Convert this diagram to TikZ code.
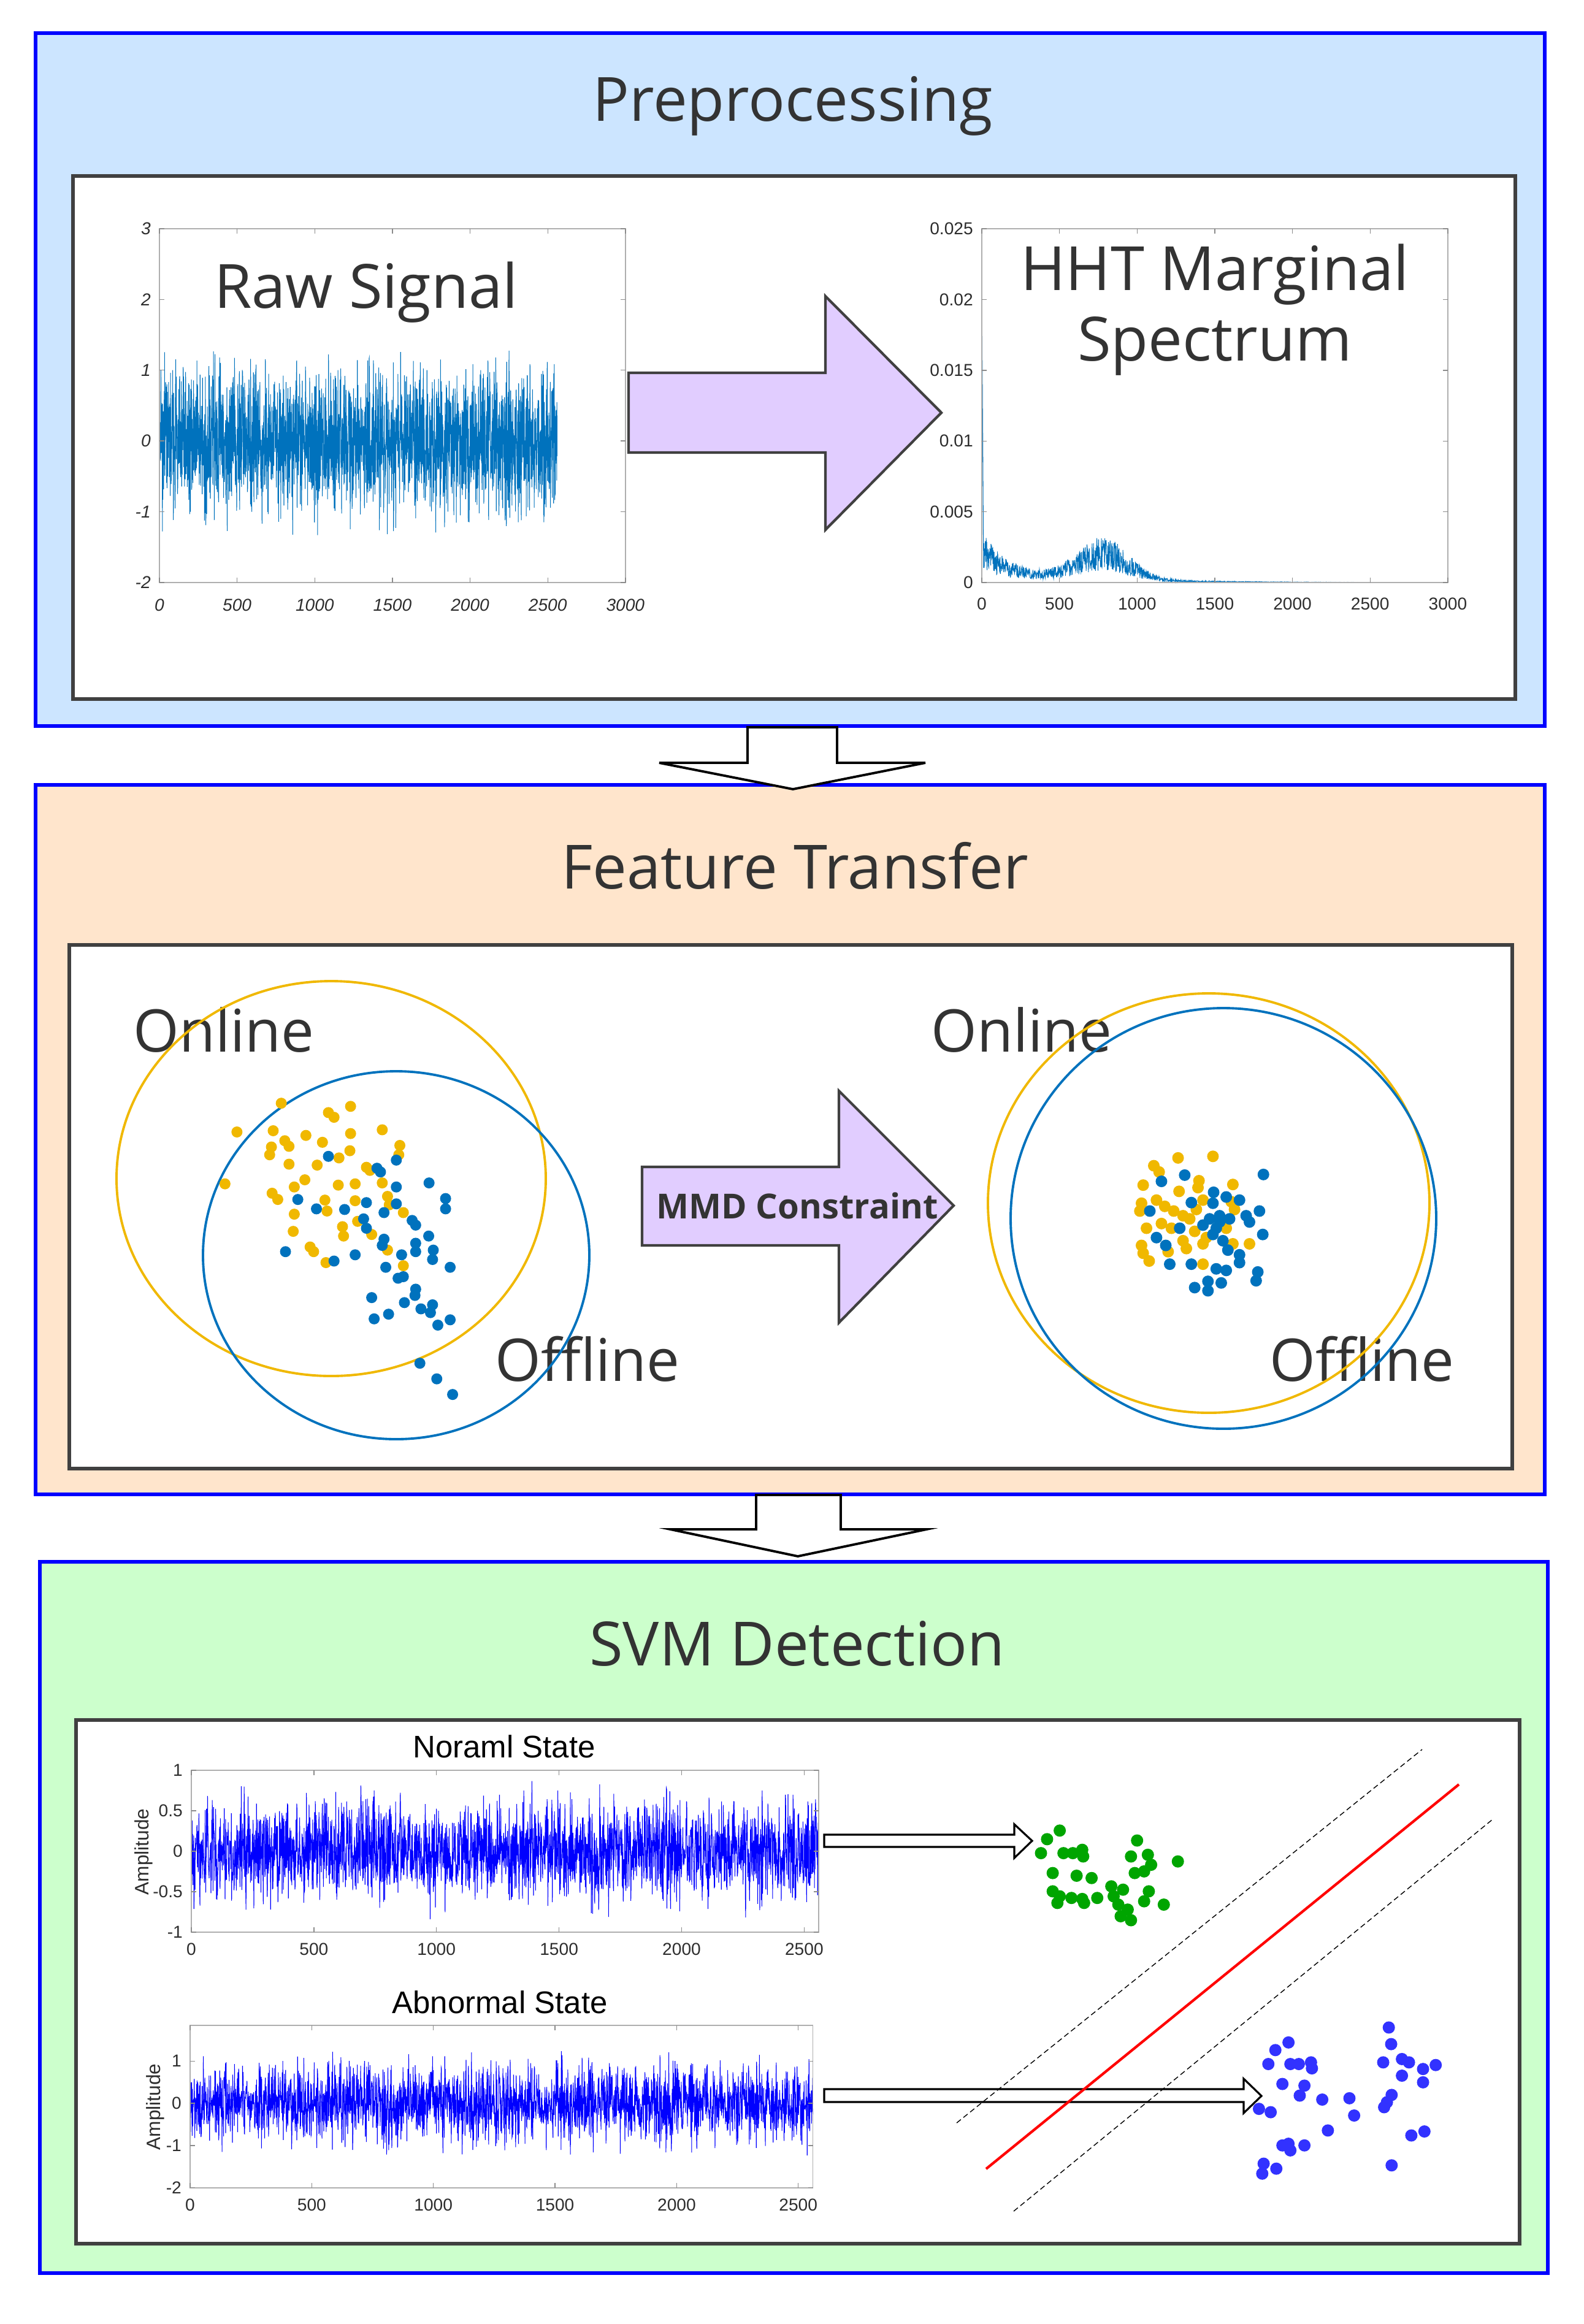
\documentclass[tikz,border=0pt]{standalone}
\usepackage{fontspec}
\setmainfont{Open Sans}
\newfontfamily\plotfont{Liberation Sans}

\definecolor{prebg}{RGB}{204,229,255}
\definecolor{featbg}{RGB}{255,229,204}
\definecolor{svmbg}{RGB}{204,255,204}
\definecolor{framegray}{RGB}{64,64,64}
\definecolor{textgray}{RGB}{51,51,51}
\definecolor{lavender}{RGB}{225,205,255}
\definecolor{mblue}{RGB}{0,114,189}
\definecolor{myellow}{RGB}{240,184,0}
\definecolor{axgray}{RGB}{175,175,175}
\definecolor{labgray}{RGB}{45,45,45}
\definecolor{dotgreen}{RGB}{0,165,0}
\definecolor{dotblue}{RGB}{50,50,255}

\tikzset{
	panel/.style={draw=blue, line width=1.5pt},
	innerbox/.style={draw=framegray, fill=white, line width=1.7pt},
	title/.style={font=\fontsize{28.3}{34}\selectfont, text=textgray, anchor=base},
	bigtext/.style={font=\fontsize{27.3}{33}\selectfont, text=textgray, anchor=base west},
	downarrow/.style={draw=black, fill=white, line width=1.1pt, line join=miter},
	bigarrow/.style={draw=framegray, fill=lavender, line width=1.2pt, line join=miter},
	hollowarrow/.style={draw=black, fill=white, line width=0.9pt, line join=miter},
	axisbox/.style={draw=axgray, line width=0.5pt},
	tickmark/.style={draw=axgray!80!black, line width=0.4pt},
	ticklab/.style={font=\plotfont\fontsize{8}{9}\selectfont, text=labgray, inner sep=1pt},
	plottitle/.style={font=\plotfont\fontsize{14.5}{17}\selectfont, text=black, anchor=base},
	axlab/.style={font=\plotfont\fontsize{9}{11}\selectfont, text=labgray, rotate=90},
	ring/.style={line width=1.1pt}
}

\begin{document}
\begin{tikzpicture}
\useasboundingbox (0,0) rectangle (25.82,-37.90);

% PANELS
	\draw [panel, fill=prebg] (0.58,-0.54) rectangle (25.19,-11.84);
	\draw [panel, fill=featbg] (0.58,-12.80) rectangle (25.19,-24.37);
	\draw [panel, fill=svmbg] (0.65,-25.47) rectangle (25.24,-37.07);
	\draw [innerbox] (1.19,-2.87) rectangle (24.71,-11.40);
	\draw [innerbox] (1.13,-15.41) rectangle (24.66,-23.95);
	\draw [innerbox] (1.24,-28.05) rectangle (24.78,-36.59);

	\node [title] (pre) at (12.93,-1.97) {Preprocessing};
	\node [title] (feat) at (12.96,-14.49) {Feature Transfer};
	\node [title] (svm) at (13.00,-27.16) {SVM Detection};

% DOWN ARROWS
	\draw [downarrow] (12.19,-11.86) -- (13.65,-11.86) -- (13.65,-12.44)
	-- (15.09,-12.44) -- (12.93,-12.87) -- (10.75,-12.44) -- (12.19,-12.44) -- cycle;
	\draw [downarrow] (12.33,-24.38) -- (13.71,-24.38) -- (13.71,-24.94)
	-- (15.11,-24.94) -- (13.01,-25.38) -- (10.93,-24.94) -- (12.33,-24.94) -- cycle;

% RAW SIGNAL
	\begin{scope}[shift={(2.60,-7.19)}, x=0.00253cm, y=1.154cm]
	\pgfmathsetseed{17}
	\draw [mblue, line width=0.3pt] plot [domain=0:2560, samples=2400] (\x,{0.5*(rand+rand+rand)});
	\draw [axisbox] (0,-2) rectangle (3000,3);
	\foreach \t in {0,500,...,3000} {
		\draw [tickmark] (\t,-2) -- ++(0,0.08cm) (\t,3) -- ++(0,-0.08cm);
		\node [ticklab, font=\plotfont\itshape\fontsize{8}{9}\selectfont, anchor=north] (rx\t) at (\t,-2.2) {\t};
	}
	\foreach \t [count=\i] in {-2,-1,0,1,2,3} {
		\draw [tickmark] (0,\t) -- ++(0.08cm,0) (3000,\t) -- ++(-0.08cm,0);
		\node [ticklab, font=\plotfont\itshape\fontsize{8}{9}\selectfont, anchor=east] (ry\i) at (-40,\t) {\t};
	}
	\end{scope}
	\node [title] (raw) at (5.97,-5.02) {Raw Signal};

% SPECTRUM
	\begin{scope}[shift={(16.01,-9.50)}, x=0.00253cm, y=0.2308cm]
	\pgfmathsetseed{5}
	\draw [mblue, line width=0.3pt] (0,0) -- (0,20.5) -- (10,3.2)
	-- plot [domain=10:2560, samples=1400]
	(\x,{(1.6*exp(-\x/120)+0.8*exp(-\x/600)+1.8*exp(-min(((\x-780)/230)^2,15)))*(0.4+1.2*rnd)});
	\draw [axisbox] (0,0) rectangle (3000,25);
	\foreach \t in {0,500,...,3000} {
		\draw [tickmark] (\t,0) -- ++(0,0.08cm) (\t,25) -- ++(0,-0.08cm);
		\node [ticklab, anchor=north] (hx\t) at (\t,-0.9) {\t};
	}
	\foreach \t/\l [count=\i] in {0/0,5/0.005,10/0.01,15/0.015,20/0.02,25/0.025} {
		\draw [tickmark] (0,\t) -- ++(0.08cm,0) (3000,\t) -- ++(-0.08cm,0);
		\node [ticklab, anchor=east] (hy\i) at (-40,\t) {\l};
	}
	\end{scope}
	\node [title] (hht) at (19.81,-4.73) {HHT Marginal};
	\node [title] (spec) at (19.81,-5.88) {Spectrum};

	\draw [bigarrow] (10.25,-6.08) -- (13.46,-6.08) -- (13.46,-4.83) -- (15.35,-6.73)
	-- (13.46,-8.64) -- (13.46,-7.38) -- (10.25,-7.38) -- cycle;

% FEATURE TRANSFER
	\node [bigtext] (onl) at (2.05,-17.15) {Online};
	\node [bigtext] (offl) at (7.95,-22.52) {Offline};
	\node [bigtext] (onr) at (15.06,-17.15) {Online};
	\node [bigtext] (offr) at (20.58,-22.52) {Offline};

	\draw [ring, myellow] (5.40,-19.22) ellipse (3.50 and 3.22);
	\draw [ring, mblue] (6.46,-20.47) ellipse (3.15 and 3.00);
	\draw [ring, myellow] (19.71,-19.62) ellipse (3.60 and 3.42);
	\draw [ring, mblue] (19.95,-19.87) ellipse (3.47 and 3.43);

	\begin{scope}[shift={(1.5,-15.8)}, x=0.005741cm, y=-0.005102cm]
	\foreach \x/\y in {538/430, 412/522, 515/518, 548/550, 560/568, 510/570, 505/595, 608/533,
		655/555, 672/460, 688/475, 735/440, 735/527, 733/582, 702/605, 560/625, 640/628, 605/675,
		575/698, 512/718, 528/738, 378/688, 700/692, 748/688, 780/635, 790/645, 825/515, 875/565,
		872/595, 825/685, 840/728, 845/755, 662/740, 668/775, 748/742, 575/785, 572/840, 712/825,
		715/855, 755/808, 795/850, 620/890, 630/905, 665/940, 885/780, 840/900, 885/950}
		\fill [myellow] (\x,\y) circle (0.09cm);
	\foreach \x/\y in {672/600, 865/612, 810/638, 820/650, 865/698, 958/685, 1005/735, 1005/768,
		585/738, 638/768, 718/770, 780/748, 772/800, 780/830, 830/780, 865/752, 910/805, 920/820,
		957/855, 830/865, 825/885, 920/878, 920/905, 970/900, 968/930, 880/915, 835/955, 1018/955,
		870/990, 885/985, 920/1025, 918/1045, 550/905, 748/915, 688/935, 795/1052, 888/1068,
		935/1088, 968/1075, 962/1100, 802/1120, 843/1105, 983/1140, 1018/1123, 932/1262,
		980/1312, 1025/1362}
		\fill [mblue] (\x,\y) circle (0.09cm);
	\end{scope}

	\begin{scope}[shift={(15.5,-15.8)}, x=0.00542cm, y=-0.005102cm]
	\foreach \x/\y in {685/605, 790/600, 612/630, 628/650, 580/692, 688/712, 748/678, 745/700,
		850/690, 575/750, 570/775, 620/740, 645/760, 672/775, 700/790, 740/770, 760/740, 590/830,
		635/815, 665/830, 720/800, 735/840, 700/870, 710/895, 760/880, 770/860, 830/830, 850/880,
		900/880, 845/745, 855/770, 575/885, 580/910, 598/935, 655/905, 760/945}
		\fill [myellow] (\x,\y) circle (0.095cm);
	\foreach \x/\y in {635/680, 705/660, 942/658, 792/715, 725/748, 830/730, 870/740, 790/750,
		810/790, 780/800, 800/830, 840/800, 820/870, 930/775, 890/790, 900/810, 940/850, 600/775,
		690/830, 620/860, 648/885, 660/945, 725/945, 800/960, 830/965, 870/915, 870/940, 925/970,
		920/998, 735/1020, 775/1000, 775/1030, 815/1005, 835/900, 760/820, 790/850, 810/810}
		\fill [mblue] (\x,\y) circle (0.095cm);
	\end{scope}

	\draw [bigarrow] (10.47,-19.03) -- (13.68,-19.03) -- (13.68,-17.79) -- (15.55,-19.66)
	-- (13.68,-21.57) -- (13.68,-20.31) -- (10.47,-20.31) -- cycle;
	\node [font=\bfseries\fontsize{16}{19}\selectfont, text=textgray, anchor=base] (mmd)
	at (13.00,-19.87) {MMD Constraint};

% SVM DETECTION
	\node [plottitle] (nor) at (8.22,-28.66) {Noraml State};
	\node [plottitle] (abn) at (8.15,-32.83) {Abnormal State};
	\node [axlab] (amp1) at (2.34,-30.20) {Amplitude};
	\node [axlab] (amp2) at (2.53,-34.36) {Amplitude};

	\begin{scope}[shift={(3.12,-30.19)}, x=0.003996cm, y=1.32cm]
	\pgfmathsetseed{29}
	\draw [blue, line width=0.3pt] plot [domain=0:2560, samples=2400] (\x,{0.3*(rand+rand+rand)});
	\draw [axisbox] (0,-1) rectangle (2560,1);
	\foreach \t in {0,500,...,2500} {
		\draw [tickmark] (\t,-1) -- ++(0,0.08cm) (\t,1) -- ++(0,-0.08cm);
		\node [ticklab, anchor=north] (nx\t) at (\t,-1.1) {\t};
	}
	\foreach \t [count=\i] in {-1,-0.5,0,0.5,1} {
		\draw [tickmark] (0,\t) -- ++(0.08cm,0) (2560,\t) -- ++(-0.08cm,0);
		\node [ticklab, anchor=east] (ny\i) at (-25,\t) {\t};
	}
	\end{scope}

	\begin{scope}[shift={(3.10,-34.30)}, x=0.003961cm, y=0.688cm]
	\pgfmathsetseed{41}
	\draw [blue, line width=0.3pt] plot [domain=0:2560, samples=2400] (\x,{0.45*(rand+rand+rand)});
	\draw [axisbox] (0,-2) rectangle (2560,1.85);
	\foreach \t in {0,500,...,2500} {
		\draw [tickmark] (\t,-2) -- ++(0,0.08cm) (\t,1.85) -- ++(0,-0.08cm);
		\node [ticklab, anchor=north] (ax\t) at (\t,-2.2) {\t};
	}
	\foreach \t [count=\i] in {-2,-1,0,1} {
		\draw [tickmark] (0,\t) -- ++(0.08cm,0) (2560,\t) -- ++(-0.08cm,0);
		\node [ticklab, anchor=east] (ay\i) at (-25,\t) {\t};
	}
	\end{scope}

	\draw [hollowarrow] (13.44,-29.92) -- (16.54,-29.92) -- (16.54,-29.75) -- (16.83,-30.02)
	-- (16.54,-30.30) -- (16.54,-30.12) -- (13.44,-30.12) -- cycle;
	\draw [hollowarrow] (13.44,-34.07) -- (20.28,-34.07) -- (20.28,-33.90) -- (20.57,-34.18)
	-- (20.28,-34.46) -- (20.28,-34.28) -- (13.44,-34.28) -- cycle;

	\draw [red, line width=1.2pt] (16.08,-35.37) -- (23.79,-29.10);
	\draw [black, line width=0.4pt, dash pattern=on 2.5pt off 1.5pt] (15.60,-34.62) -- (23.19,-28.53);
	\draw [black, line width=0.4pt, dash pattern=on 2.5pt off 1.5pt] (16.53,-36.06) -- (24.34,-29.67);

	\begin{scope}[shift={(13.0,-28.0)}, x=0.007651cm, y=-0.00542cm]
	\foreach \x/\y in {560/342, 533/368, 520/410, 568/410, 588/410, 608/400, 610/420, 545/470,
		596/478, 628/485, 545/525, 560/540, 555/560, 585/545, 608/548, 612/560, 640/545, 670/510,
		675/540, 695/520, 685/565, 690/600, 712/612, 705/580, 725/372, 712/420, 748/415, 755/445,
		720/470, 740/465, 750/525, 740/555, 782/565, 812/435}
		\fill [dotgreen] (\x,\y) circle (0.1cm);
	\foreach \x/\y in {1262/935, 1267/985, 1048/980, 1020/1003, 1005/1045, 1052/1045, 1070/1045,
		1096/1040, 1098/1058, 1035/1105, 1082/1110, 1072/1140, 1120/1152, 1178/1148, 1188/1200,
		1250/1040, 1290/1030, 1305/1040, 1335/1060, 1362/1048, 1335/1100, 1290/1080, 1268/1138,
		1258/1160, 1252/1175, 985/1180, 1010/1190, 1132/1245, 1048/1285, 1035/1290, 1052/1305,
		1082/1290, 995/1345, 992/1375, 1022/1360, 1268/1350, 1310/1260, 1338/1248}
		\fill [dotblue] (\x,\y) circle (0.1cm);
	\end{scope}

\end{tikzpicture}
\end{document}
